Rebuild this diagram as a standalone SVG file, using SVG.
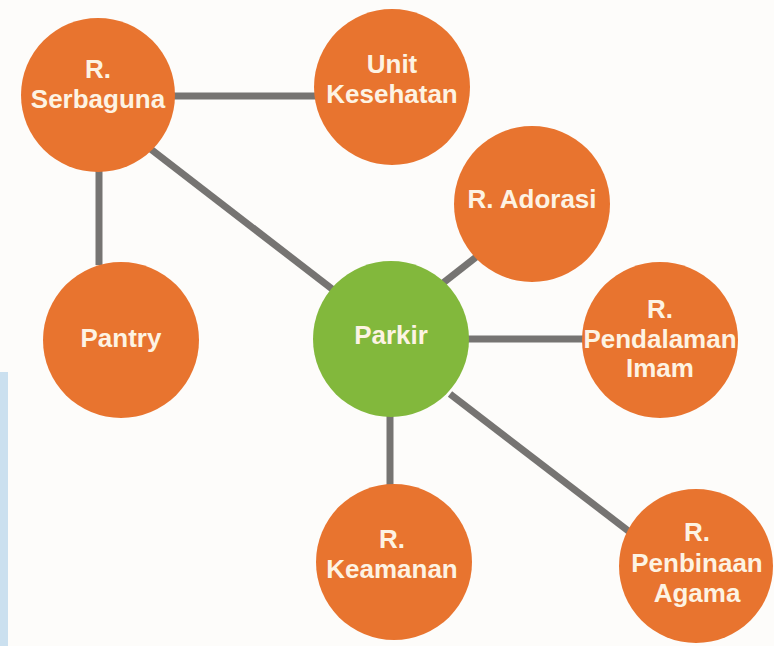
<svg xmlns="http://www.w3.org/2000/svg" width="774" height="646" viewBox="0 0 774 646">
<style>
.n{fill:#E8742F}
.p{fill:#82B83C}
.t{fill:#FDF3E3;font-family:"Liberation Sans",Arial,sans-serif;font-weight:bold;font-size:26px;text-anchor:middle}
.c{stroke:#767472;stroke-width:7;fill:none}
</style>
<rect width="774" height="646" fill="#FDFCFA"/>
<rect x="0" y="372" width="8" height="274" fill="#CBE0EF"/>
<g id="connectors">
<line class="c" x1="170" y1="96" x2="318" y2="96"/>
<line class="c" x1="99" y1="170" x2="99" y2="265"/>
<line class="c" x1="148" y1="147" x2="336" y2="292"/>
<line class="c" x1="443" y1="283" x2="480" y2="254"/>
<line class="c" x1="465" y1="339" x2="586" y2="339"/>
<line class="c" x1="390" y1="414" x2="390" y2="488"/>
<line class="c" x1="450" y1="394" x2="631" y2="533"/>
</g>
<g id="serbaguna"><circle class="n" cx="98" cy="95" r="77"/><text class="t" x="98" y="78">R.</text><text class="t" x="98" y="108">Serbaguna</text></g>
<g id="unit-kesehatan"><circle class="n" cx="392" cy="87" r="78"/><text class="t" x="392" y="73">Unit</text><text class="t" x="392" y="103">Kesehatan</text></g>
<g id="pantry"><circle class="n" cx="121" cy="340" r="78"/><text class="t" x="121" y="347">Pantry</text></g>
<g id="parkir"><circle class="p" cx="391" cy="339" r="78"/><text class="t" x="391" y="344">Parkir</text></g>
<g id="adorasi"><circle class="n" cx="532" cy="204" r="78"/><text class="t" x="532" y="208">R. Adorasi</text></g>
<g id="pendalaman"><circle class="n" cx="660" cy="340" r="78"/><text class="t" x="660" y="318">R.</text><text class="t" x="660" y="348">Pendalaman</text><text class="t" x="660" y="377">Imam</text></g>
<g id="keamanan"><circle class="n" cx="394" cy="562" r="78"/><text class="t" x="392" y="548">R.</text><text class="t" x="392" y="578">Keamanan</text></g>
<g id="penbinaan"><circle class="n" cx="696" cy="566" r="77"/><text class="t" x="697" y="541">R.</text><text class="t" x="697" y="572">Penbinaan</text><text class="t" x="697" y="602">Agama</text></g>
</svg>
